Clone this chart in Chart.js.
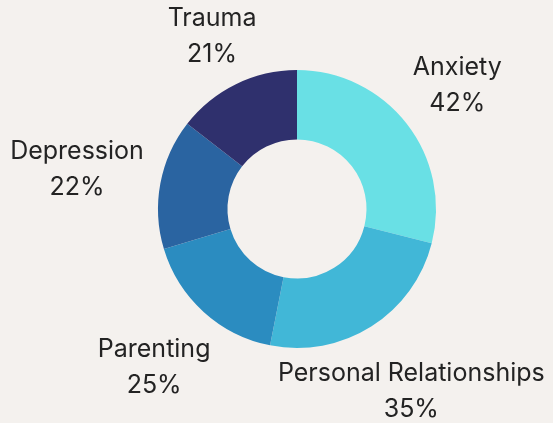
<!DOCTYPE html>
<html>
<head>
<meta charset="utf-8">
<script src="https://cdn.jsdelivr.net/npm/chart.js@4/dist/chart.umd.min.js"></script>
<style>
  html, body { margin: 0; padding: 0; background: #f4f1ee; }
  #wrap { width: 553px; height: 423px; }
</style>
</head>
<body>
<div id="wrap"><canvas id="topicChart" width="553" height="423"></canvas></div>
<script>
// Chart data
const categories = ['Anxiety', 'Personal Relationships', 'Parenting', 'Depression', 'Trauma'];
const percentages = [42, 35, 25, 22, 21];
const sliceColors = ['#69e0e5', '#41b7d7', '#2b8cc0', '#2a64a1', '#2f306d'];

// distance of each label centre from the ring centre, relative to the outer radius
const labelDistance = [1.46, 1.54, 1.53, 1.61, 1.39];

// Plugin that writes the name and percentage outside each slice
const outsideLabels = {
  id: 'outsideLabels',
  afterDatasetsDraw(chart) {
    const ctx = chart.ctx;
    const meta = chart.getDatasetMeta(0);
    ctx.save();
    ctx.fillStyle = '#232323';
    ctx.font = '25px Inter, "Noto Sans", sans-serif';
    ctx.textAlign = 'center';
    ctx.textBaseline = 'middle';
    meta.data.forEach((arc, i) => {
      const p = arc.getProps(['x', 'y', 'startAngle', 'endAngle', 'outerRadius'], true);
      const mid = (p.startAngle + p.endAngle) / 2;
      const r = p.outerRadius * labelDistance[i];
      const cx = p.x + Math.cos(mid) * r;
      const cy = p.y + Math.sin(mid) * r;
      ctx.fillText(categories[i], cx, cy - 17);
      ctx.fillText(percentages[i] + '%', cx, cy + 19);
    });
    ctx.restore();
  }
};

function createTopicChart() {
  const ctx = document.getElementById('topicChart').getContext('2d');
  new Chart(ctx, {
    type: 'doughnut',
    data: {
      labels: categories,
      datasets: [{
        data: percentages,
        backgroundColor: sliceColors,
        borderWidth: 0
      }]
    },
    options: {
      responsive: false,
      animation: false,
      cutout: '50%',
      layout: { padding: { top: 70, bottom: 75, left: 158, right: 117 } },
      plugins: {
        legend: { display: false },
        tooltip: { enabled: false }
      }
    },
    plugins: [outsideLabels]
  });
}

document.addEventListener('DOMContentLoaded', createTopicChart);
</script>
</body>
</html>
